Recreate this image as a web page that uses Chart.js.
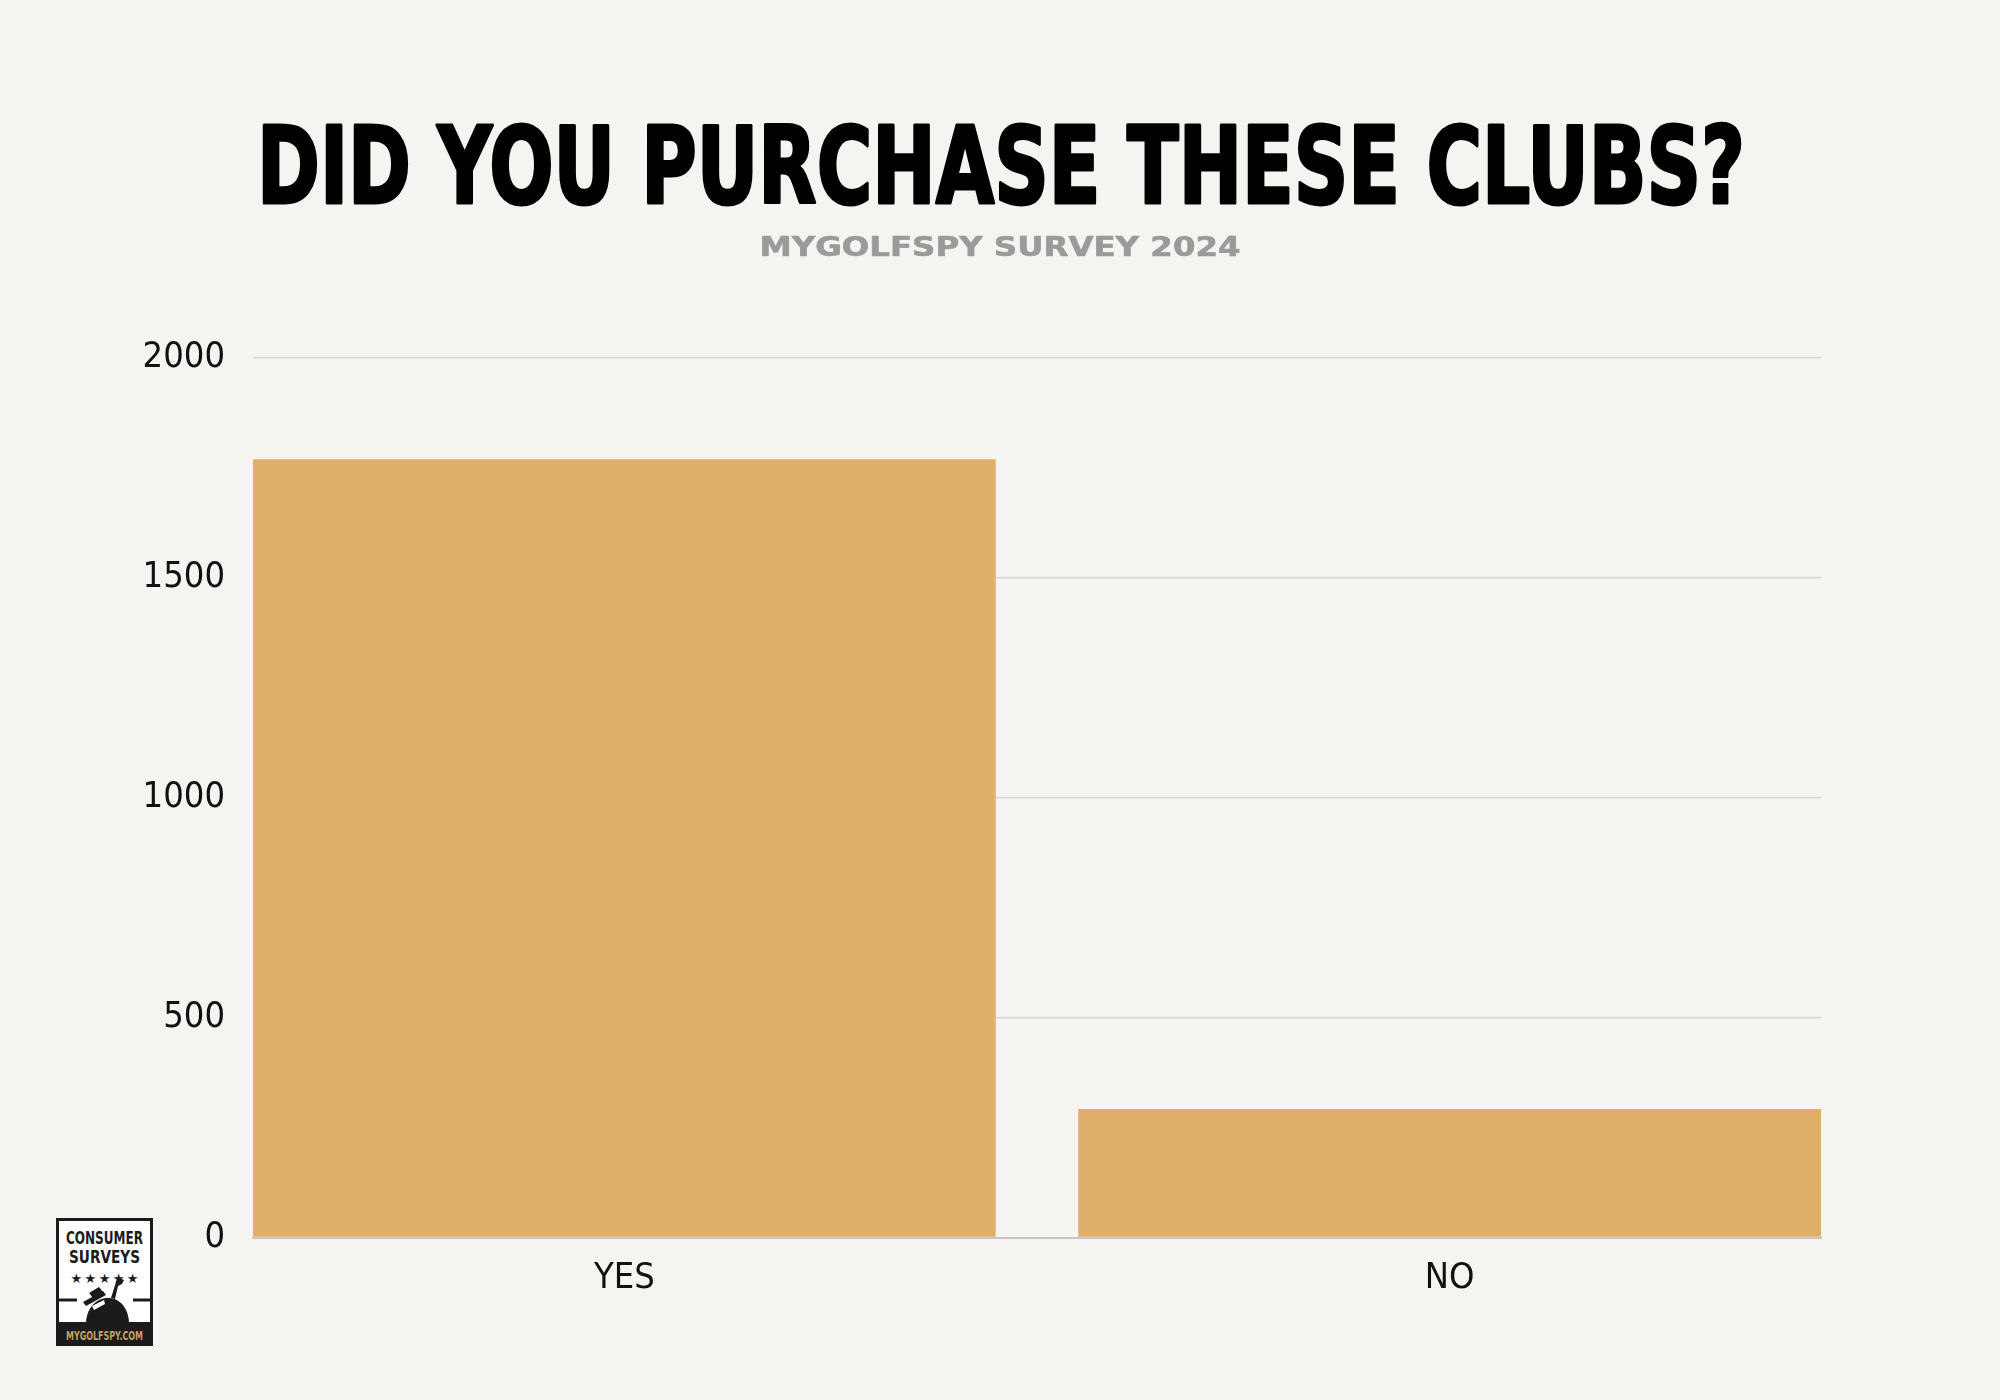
<!DOCTYPE html>
<html>
<head>
<meta charset="utf-8">
<script src="https://cdn.jsdelivr.net/npm/chart.js@4.4.1/dist/chart.umd.min.js"></script>
<style>
html,body{margin:0;padding:0;background:#f5f4f1;}
#wrap{position:relative;width:2000px;height:1400px;overflow:hidden;background:#f5f4f1;}
#c{position:absolute;left:0;top:0;}
#logo{position:absolute;left:56px;top:1218px;width:97px;height:128px;}
</style>
</head>
<body>
<div id="wrap">
<canvas id="c" width="2000" height="1400"></canvas>
<svg id="logo" viewBox="0 0 97 128" xmlns="http://www.w3.org/2000/svg">
  <rect x="1.5" y="1.5" width="94" height="125" fill="#ffffff" stroke="#1b1b1b" stroke-width="3"/>
  <text id="lg1" x="48.5" y="26" text-anchor="middle" font-weight="bold" font-size="18" textLength="77" lengthAdjust="spacingAndGlyphs" fill="#1b1b1b">CONSUMER</text>
  <text id="lg2" x="48.5" y="45" text-anchor="middle" font-weight="bold" font-size="18" textLength="71" lengthAdjust="spacingAndGlyphs" fill="#1b1b1b">SURVEYS</text>
  <text x="48.5" y="65" text-anchor="middle" font-family="'DejaVu Sans',sans-serif" font-size="13" textLength="68" lengthAdjust="spacing" fill="#1b1b1b">★★★★★</text>
  <line x1="3" y1="82" x2="21" y2="82" stroke="#1b1b1b" stroke-width="3"/>
  <line x1="77" y1="82" x2="94" y2="82" stroke="#1b1b1b" stroke-width="3"/>
  <path d="M30 104 C31 90 40 80 52 80 C64 80 72 90 73 104 Z" fill="#1b1b1b"/>
  <path d="M27 84 L47 73 L50 77 L30 88 Z" fill="#1b1b1b"/>
  <path d="M33 75 L43 69 L47 74 L37 80 Z" fill="#1b1b1b"/>
  <path d="M36 88 L48 82 L49 86 L38 92 Z" fill="#ffffff"/>
  <path d="M55 80 L60 64 L63 60 L68 62 L66 66 L62 68 L59 81 Z" fill="#1b1b1b"/>
  <rect x="0" y="104" width="97" height="24" fill="#1b1b1b"/>
  <text id="lg3" x="48.5" y="121.5" text-anchor="middle" font-weight="bold" font-size="12" textLength="77" lengthAdjust="spacingAndGlyphs" fill="#c9a15f">MYGOLFSPY.COM</text>
</svg>
</div>
<script>
// ---- data ----
const categories = ['YES', 'NO'];
const responses = [1770, 292];
const yTickValues = [0, 500, 1000, 1500, 2000];
const titleText = 'DID YOU PURCHASE THESE CLUBS?';
const subtitleText = 'MYGOLFSPY SURVEY 2024';

// pick the narrowest installed font
const probe = document.createElement('canvas').getContext('2d');
function installed(name) {
  const s = 'abcdefghijklmnopqrstuvwxyzABCDEFGHIJKLMNOPQRSTUVWXYZ0123456789';
  probe.font = "40px monospace"; const m1 = probe.measureText(s).width;
  probe.font = "40px '" + name + "', monospace"; const a = probe.measureText(s).width;
  probe.font = "40px serif"; const m2 = probe.measureText(s).width;
  probe.font = "40px '" + name + "', serif"; const b = probe.measureText(s).width;
  return a !== m1 || b !== m2;
}
const candidates = ['Liberation Sans Narrow', 'DejaVu Sans Condensed', 'Roboto Condensed', 'Noto Sans'];
let narrowName = candidates.find(installed) || 'DejaVu Sans';
const NARROW = "'" + narrowName + "', sans-serif";
['lg1', 'lg2', 'lg3'].forEach(id => document.getElementById(id).setAttribute('font-family', NARROW));

function drawFitted(ctx, text, family, weight, capH, baseline, centerX, width, color, stroke) {
  ctx.save();
  ctx.font = weight + ' 100px ' + family;
  const m = ctx.measureText('H');
  const capRatio = m.actualBoundingBoxAscent / 100;
  const size = capH / capRatio;
  ctx.font = weight + ' ' + size + 'px ' + family;
  const w = ctx.measureText(text).width;
  const sx = width / w;
  ctx.translate(centerX - width / 2, baseline);
  ctx.scale(sx, 1);
  ctx.textAlign = 'left';
  ctx.textBaseline = 'alphabetic';
  ctx.fillStyle = color;
  ctx.fillText(text, 0, 0);
  if (stroke) {
    ctx.strokeStyle = color;
    ctx.lineWidth = stroke;
    ctx.lineJoin = 'round';
    ctx.strokeText(text, 0, 0);
  }
  ctx.restore();
}

const titlePlugin = {
  id: 'titles',
  afterDraw(chart) {
    const ctx = chart.ctx;
    drawFitted(ctx, titleText, NARROW, 'bold', 78, 203, 1001, 1488, '#000000', 3);
    drawFitted(ctx, subtitleText, "'DejaVu Sans',sans-serif", 'bold', 19, 256, 1000, 481, '#9a9a9a', 0.6);
  }
};

// size so the digit height is about 27px
probe.font = "100px " + NARROW;
const digitRatio = probe.measureText('0').actualBoundingBoxAscent / 100 || 0.72;
const tickSize = Math.round(27 / digitRatio);
const tickFont = { family: NARROW, size: tickSize, weight: 'normal' };

new Chart(document.getElementById('c').getContext('2d'), {
  type: 'bar',
  data: {
    datasets: [{
      data: categories.map((c, i) => ({ x: i, y: responses[i] })),
      backgroundColor: '#E0AF6B',
      borderWidth: 0,
      barPercentage: 0.9,
      categoryPercentage: 1
    }]
  },
  options: {
    responsive: false,
    animation: false,
    devicePixelRatio: 1,
    layout: { padding: { top: 358, right: 179, bottom: 0, left: 0 } },
    plugins: { legend: { display: false }, tooltip: { enabled: false }, title: { display: false } },
    scales: {
      x: {
        type: 'linear',
        offset: false,
        min: -0.45,
        max: 1.45,
        grid: { display: false },
        border: { display: true, color: '#c6c6c6', width: 2 },
        afterBuildTicks: s => { s.ticks = categories.map((c, i) => ({ value: i })); },
        afterFit: s => { s.height = 1400 - 1237.5; },
        ticks: {
          callback: v => categories[v],
          font: tickFont,
          color: '#111111',
          padding: 12,
          maxRotation: 0,
          autoSkip: false
        }
      },
      y: {
        min: 0,
        max: 2000,
        afterBuildTicks: s => { s.ticks = yTickValues.map(v => ({ value: v })); },
        afterFit: s => { s.width = 253; },
        grid: { color: '#d3d3d3', lineWidth: 1.5, drawTicks: false },
        border: { display: false },
        ticks: { font: tickFont, color: '#111111', padding: 28, callback: v => String(v) }
      }
    }
  },
  plugins: [titlePlugin]
});
</script>
</body>
</html>
